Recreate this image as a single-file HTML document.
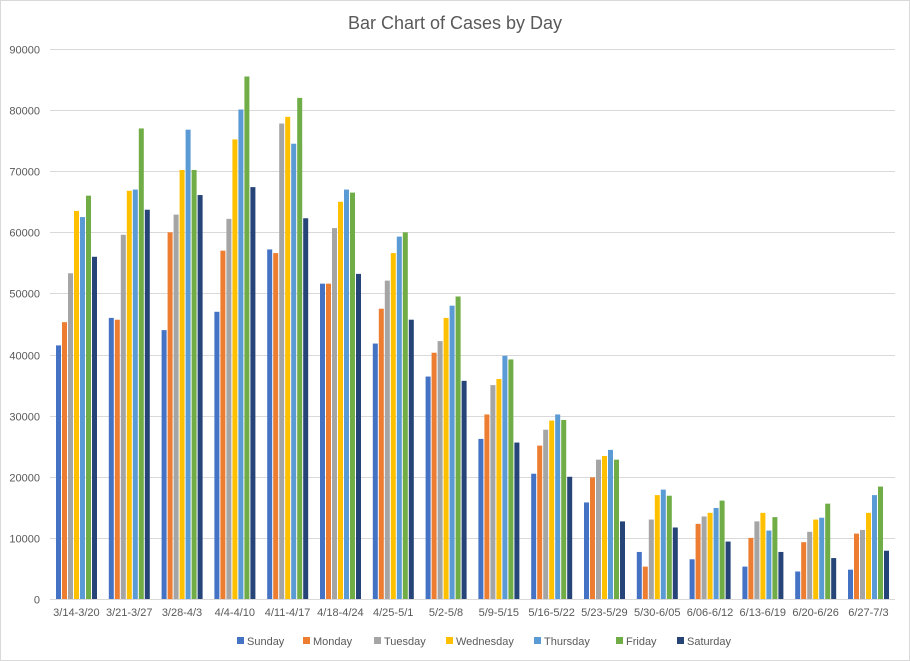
<!DOCTYPE html>
<html><head><meta charset="utf-8"><style>body{margin:0;background:#fff}svg{display:block}</style></head>
<body>
<svg width="910" height="661" xmlns="http://www.w3.org/2000/svg" font-family="Liberation Sans, sans-serif">
<rect x="0.5" y="0.5" width="909" height="660" fill="#fff" stroke="#d9d9d9"/>
<text x="455" y="29" text-anchor="middle" font-size="18" fill="#595959">Bar Chart of Cases by Day</text>
<g id="grid" stroke="#d9d9d9" stroke-width="1"></g>
<g id="bars"></g>
<g id="labels" font-size="11" fill="#595959"></g>
<g font-size="11" fill="#595959" id="legend"></g>
<script>
var ns="http://www.w3.org/2000/svg";
function el(p,t,a,txt){var e=document.createElementNS(ns,t);for(var k in a)e.setAttribute(k,a[k]);if(txt!==undefined)e.textContent=txt;document.getElementById(p).appendChild(e);}
var y0=599,sc=550/90000;
for(var i=0;i<=9;i++){var y=Math.round(y0-i*10000*sc)+0.5;el("grid","line",{x1:50,x2:895,y1:y,y2:y});el("labels","text",{x:40,y:y+4,"text-anchor":"end"},i*10000);}
var cols=["#4472C4","#ED7D31","#A5A5A5","#FFC000","#5B9BD5","#70AD47","#264478"];
var names=["Sunday","Monday","Tuesday","Wednesday","Thursday","Friday","Saturday"];
var cats=["3/14-3/20","3/21-3/27","3/28-4/3","4/4-4/10","4/11-4/17","4/18-4/24","4/25-5/1","5/2-5/8","5/9-5/15","5/16-5/22","5/23-5/29","5/30-6/05","6/06-6/12","6/13-6/19","6/20-6/26","6/27-7/3"];
var d=[[41500,45300,53300,63500,62500,66000,56000],[46000,45700,59600,66800,67000,77000,63700],[44000,60000,62900,70200,76800,70200,66100],[47000,57000,62200,75200,80100,85500,67400],[57200,56600,77800,78900,74500,82000,62300],[51600,51600,60700,65000,67000,66500,53200],[41800,47500,52100,56600,59300,60000,45700],[36400,40300,42200,46000,48000,49500,35700],[26200,30200,35000,36000,39800,39200,25600],[20500,25100,27700,29200,30200,29300,20000],[15800,19900,22800,23400,24400,22800,12700],[7700,5300,13000,17000,17900,16900,11700],[6500,12300,13500,14100,14900,16100,9400],[5300,10000,12700,14100,11200,13400,7700],[4500,9300,11000,13000,13300,15600,6700],[4800,10700,11300,14100,17000,18400,7900]];
for(var g=0;g<16;g++){var gs=50+52.8*g;for(var j=0;j<7;j++){var h=d[g][j]*sc;el("bars","rect",{x:gs+6+j*6,y:y0-h,width:5,height:h,fill:cols[j]});}
el("labels","text",{x:gs+26.4,y:616,"text-anchor":"middle"},cats[g]);}
var lx=[237,303,374,446,534,616,677];
for(var j=0;j<7;j++){el("legend","rect",{x:lx[j],y:637,width:7,height:7,fill:cols[j]});el("legend","text",{x:lx[j]+10,y:645},names[j]);}
</script>
</svg>
</body></html>
